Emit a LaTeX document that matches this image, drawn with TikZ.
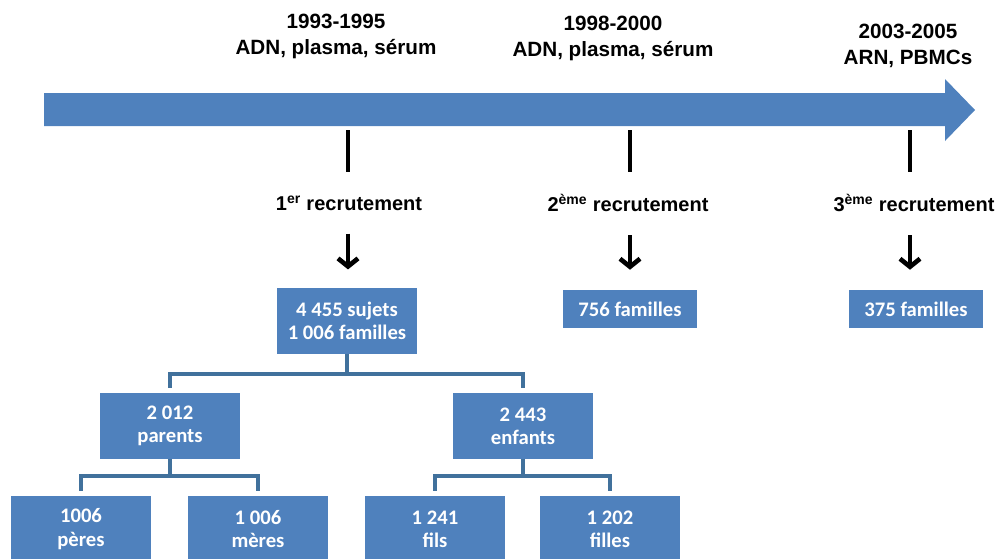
\documentclass[tikz,border=0pt]{standalone}
\usepackage{fontspec}
\setmainfont{Liberation Sans}
\newfontfamily\boxfont{Carlito}
\usepackage{xcolor}
\usepackage{tikz}
\usetikzlibrary{arrows.meta,positioning}

\definecolor{boxblue}{HTML}{4F81BD}
\definecolor{linkblue}{HTML}{41719C}

\tikzset{
    box/.style={fill=boxblue, text=white, align=center, inner sep=0pt,
        font=\boxfont\bfseries\fontsize{15.5}{17.5}\selectfont,
        minimum width=105pt, minimum height=49pt},
    smallbox/.style={box, minimum width=101pt, minimum height=28.5pt},
    link/.style={linkblue, line width=3.5pt},
    tickmark/.style={black, line width=3.5pt},
    down/.style={black, line width=3.5pt, -{Straight Barb[length=6pt,width=15pt]}},
    period/.style={align=center, font=\bfseries\fontsize{15.5}{19.5}\selectfont},
    recruit/.style={font=\bfseries\fontsize{15}{17}\selectfont}
}

\begin{document}
\begin{tikzpicture}[x=0.75pt,y=-0.75pt]
    \useasboundingbox (0,0) rectangle (1000,558);
    \clip (0,0) rectangle (1000,558);

    % Time axis
    \fill[boxblue] (44,93) -- (945,93) -- (945,79) -- (975,110) -- (945,141)
        -- (945,126) -- (44,126) -- cycle;

    % Periods
    \node[period] (p1) at (336,36) {1993-1995\\ADN, plasma, sérum};
    \node[period] (p2) at (613,38) {1998-2000\\ADN, plasma, sérum};
    \node[period] (p3) at (908,46) {2003-2005\\ARN, PBMCs};

    % Ticks
    \coordinate (t1) at (348,130); \coordinate (t1b) at (348,172);
    \coordinate (t2) at (630,130); \coordinate (t2b) at (630,172);
    \coordinate (t3) at (910,130); \coordinate (t3b) at (910,172);
    \draw[tickmark] (t1) -- (t1b);
    \draw[tickmark] (t2) -- (t2b);
    \draw[tickmark] (t3) -- (t3b);

    % Recruitments
    \node[recruit] (r1) at (349,203) {1\textsuperscript{er} recrutement};
    \node[recruit] (r2) at (628,203) {2\textsuperscript{ème} recrutement};
    \node[recruit] (r3) at (914,203) {3\textsuperscript{ème} recrutement};

    \node[box] (root) at (347,321) {4 455 sujets\\1 006 familles};
    \node[smallbox] (fam2) at (630,309) {756 familles};
    \node[smallbox] (fam3) at (916,309) {375 familles};

    \draw[down, shorten <=14pt, shorten >=14pt] (r1.south -| t1) -- (root.north -| t1);
    \draw[down, shorten <=14pt, shorten >=15pt] (r2.south -| t2) -- (fam2.north -| t2);
    \draw[down, shorten <=14pt, shorten >=15pt] (r3.south -| t3) -- (fam3.north -| t3);

    % Tree
    \node[box] (parents) at (170,426) {2 012\\parents};
    \node[box] (children) at (523,426) {2 443\\enfants};
    \node[box] (fathers) at (81,529) {1006\\pères};
    \node[box] (mothers) at (258,529) {1 006\\mères};
    \node[box] (sons) at (435,529) {1 241\\fils};
    \node[box] (daughters) at (610,529) {1 202\\filles};

    \coordinate (j1) at (347,374);
    \coordinate (j2) at (170,476);
    \coordinate (j3) at (523,476);

    \draw[link] (root) -- (j1);
    \draw[link, shorten <=4pt, shorten >=4pt] (parents.north) |- (j1) -| (children.north);
    \draw[link] (parents) -- (j2);
    \draw[link, shorten <=4pt, shorten >=4pt] (fathers.north) |- (j2) -| (mothers.north);
    \draw[link] (children) -- (j3);
    \draw[link, shorten <=4pt, shorten >=4pt] (sons.north) |- (j3) -| (daughters.north);
\end{tikzpicture}
\end{document}
